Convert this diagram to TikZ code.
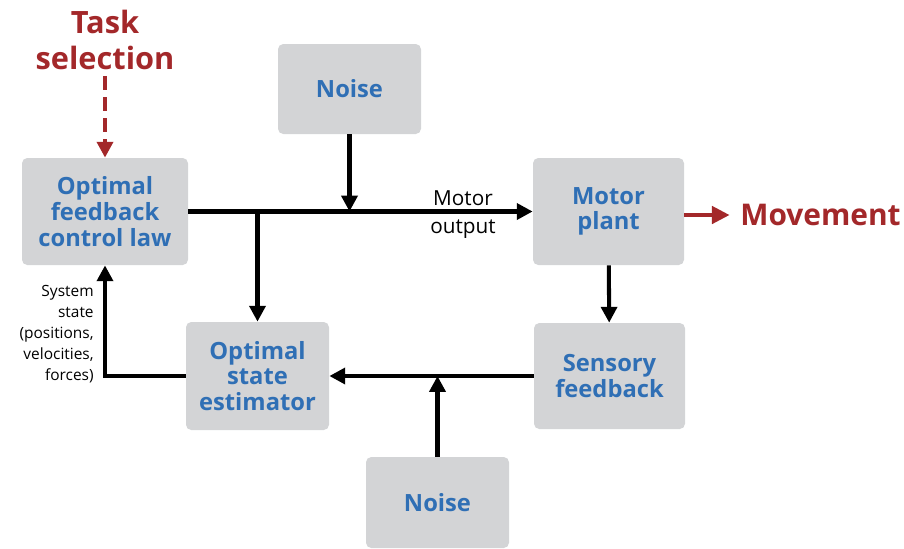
\documentclass[tikz,border=0pt]{standalone}
\usepackage{fontspec}
\setmainfont{Open Sans}
\usepackage{tikz}
\usetikzlibrary{arrows.meta, positioning}
\definecolor{boxgrey}{HTML}{D3D4D6}
\definecolor{boxblue}{HTML}{2F6FB5}
\definecolor{taskred}{HTML}{A3282A}

\tikzset{
  block/.style={fill=boxgrey, rounded corners=3pt, text=boxblue, align=center,
                font=\fontsize{13.5}{14.6}\selectfont\bfseries, inner sep=0pt},
  flow/.style={line width=2.3pt, -{Triangle[length=9pt,width=9pt]}},
  redflow/.style={line width=2.3pt, draw=taskred, -{Triangle[length=9pt,width=9pt]}}
}

\begin{document}
\begin{tikzpicture}
  \useasboundingbox (0,0) rectangle (18.08,-10.96);

  % blocks
  \node[block, minimum width=3.32cm, minimum height=2.14cm] (law)   at (2.10,-4.23)  {Optimal\\feedback\\control law};
  \node[block, minimum width=2.86cm, minimum height=1.80cm] (ntop)  at (6.99,-1.78)  {Noise};
  \node[block, minimum width=3.02cm, minimum height=2.14cm] (plant) at (12.17,-4.23) {Motor\\plant};
  \node[block, minimum width=3.02cm, minimum height=2.12cm] (sens)  at (12.19,-7.52) {Sensory\\feedback};
  \node[block, minimum width=2.86cm, minimum height=2.16cm] (est)   at (5.15,-7.52)  {Optimal\\state\\estimator};
  \node[block, minimum width=2.86cm, minimum height=1.82cm] (nbot)  at (8.75,-10.05) {Noise};

  % labels
  \node[text=taskred, align=center, font=\fontsize{17.5}{20.4}\selectfont\bfseries] (task) at (2.10,-0.80) {Task\\selection};
  \node[text=taskred, anchor=west, inner sep=0pt, font=\fontsize{17}{20}\selectfont\bfseries] (mov) at (14.80,-4.30) {Movement};
  \node[align=center, font=\fontsize{11.8}{13}\selectfont] (mout) at (9.26,-4.30) {Motor\\[3pt]output};
  \node[align=right, anchor=east, inner sep=0pt, font=\fontsize{8.8}{12}\selectfont] (sstate) at (1.88,-6.68) {System\\state\\(positions,\\velocities,\\forces)};

  % connectors
  \draw[redflow, dash pattern=on 8pt off 4pt] (task) -- (law);
  \draw[flow] (law.east) -- (plant.west);
  \draw[flow] (ntop) -- (ntop.south |- law.east);
  \draw[flow] (est.north |- law.east) -- (est.north);
  \draw[draw=taskred, line width=1.8pt, -{Triangle[length=10pt,width=10pt]}, shorten >=6pt] (plant.east |- mov.west) -- (mov.west);
  \draw[flow] (plant) -- (sens);
  \draw[flow] (sens) -- (est);
  \draw[flow] (nbot) -- (nbot.north |- sens.west);
  \draw[flow] (est.west) -| (law.south);
\end{tikzpicture}
\end{document}
